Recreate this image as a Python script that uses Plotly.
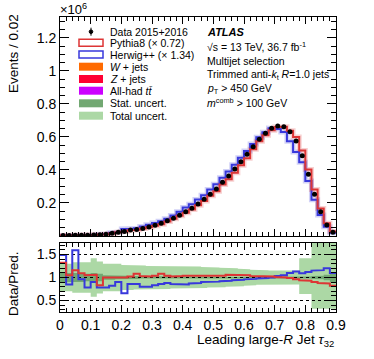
import plotly.graph_objects as go

# ---------------- data ----------------
bin_width = 0.02
n_bins = 45
edges = [round(bin_width * i, 2) for i in range(n_bins + 1)]

# events per bin, units of 1e6
data = [0.003, 0.003, 0.004, 0.004, 0.005, 0.006, 0.008, 0.010, 0.016, 0.022,
        0.028, 0.036, 0.040, 0.046, 0.054, 0.065, 0.077, 0.092, 0.107, 0.126,
        0.147, 0.168, 0.194, 0.222, 0.253, 0.285, 0.325, 0.364, 0.406, 0.450,
        0.495, 0.541, 0.586, 0.622, 0.653, 0.667, 0.662, 0.632, 0.576, 0.487,
        0.374, 0.253, 0.147, 0.067, 0.022]

pythia = [0.0023, 0.0029, 0.0034, 0.0037, 0.0048, 0.0057, 0.0096, 0.0100, 0.0158, 0.0220,
          0.0280, 0.0353, 0.0370, 0.0447, 0.0529, 0.0625, 0.0713, 0.0885, 0.1049, 0.1223,
          0.1413, 0.1600, 0.1865, 0.2114, 0.2433, 0.2714, 0.3125, 0.3434, 0.3830, 0.4286,
          0.4714, 0.5252, 0.5745, 0.6098, 0.6402, 0.6604, 0.6620, 0.6384, 0.6000, 0.5181,
          0.4022, 0.2811, 0.1670, 0.0770, 0.0268]

herwig = [0.0020, 0.0035, 0.0025, 0.0042, 0.0064, 0.0067, 0.0103, 0.0128, 0.0195, 0.0244,
          0.0424, 0.0419, 0.0465, 0.0575, 0.0675, 0.0783, 0.0895, 0.1045, 0.1244, 0.1465,
          0.1730, 0.1930, 0.2205, 0.2467, 0.2811, 0.3132, 0.3533, 0.3914, 0.4319, 0.4737,
          0.5156, 0.5577, 0.5980, 0.6283, 0.6530, 0.6476, 0.6305, 0.5745, 0.5097, 0.4468,
          0.3339, 0.2200, 0.1267, 0.0558, 0.0200]

ratio_pythia = [1.32, 1.05, 1.16, 1.09, 1.05, 1.06, 0.83, 1.00, 1.01, 1.00,
                1.00, 1.02, 1.08, 1.03, 1.02, 1.04, 1.08, 1.04, 1.02, 1.03,
                1.04, 1.05, 1.04, 1.05, 1.04, 1.05, 1.04, 1.06, 1.06, 1.05,
                1.05, 1.03, 1.02, 1.02, 1.02, 1.01, 1.00, 0.99, 0.96, 0.94,
                0.93, 0.90, 0.88, 0.87, 0.82]

ratio_herwig = [1.49, 0.85, 1.59, 0.96, 0.78, 0.90, 0.78, 0.78, 0.82, 0.90,
                0.66, 0.86, 0.86, 0.80, 0.80, 0.83, 0.86, 0.88, 0.86, 0.86,
                0.85, 0.87, 0.88, 0.90, 0.90, 0.91, 0.92, 0.93, 0.94, 0.95,
                0.96, 0.97, 0.98, 0.99, 1.00, 1.03, 1.05, 1.10, 1.13, 1.09,
                1.12, 1.15, 1.16, 1.20, 1.10]

stat_unc = [0.12, 0.10, 0.10, 0.10, 0.08, 0.10, 0.08, 0.05, 0.05, 0.04,
            0.04, 0.03, 0.03, 0.02, 0.02, 0.02, 0.02, 0.02, 0.02, 0.02,
            0.015, 0.015, 0.015, 0.015, 0.015, 0.015, 0.01, 0.01, 0.01, 0.01,
            0.01, 0.01, 0.01, 0.01, 0.01, 0.01, 0.01, 0.01, 0.015, 0.015,
            0.02, 0.03, 0.04, 0.06, 0.10]

total_unc_up = [0.30, 0.30, 0.33, 0.33, 0.33, 0.42, 0.35, 0.30, 0.30, 0.30,
                0.27, 0.27, 0.26, 0.26, 0.25, 0.25, 0.25, 0.25, 0.24, 0.24,
                0.24, 0.24, 0.24, 0.23, 0.22, 0.22, 0.21, 0.20, 0.20, 0.19,
                0.18, 0.17, 0.16, 0.16, 0.15, 0.15, 0.15, 0.15, 0.15, 0.42,
                0.42, 1.00, 1.00, 1.00, 1.00]

total_unc_down = [0.30, 0.30, 0.33, 0.33, 0.33, 0.42, 0.35, 0.30, 0.30, 0.30,
                  0.27, 0.27, 0.26, 0.26, 0.25, 0.25, 0.25, 0.25, 0.24, 0.24,
                  0.24, 0.24, 0.24, 0.23, 0.22, 0.22, 0.21, 0.20, 0.20, 0.19,
                  0.18, 0.17, 0.16, 0.16, 0.15, 0.15, 0.15, 0.15, 0.15, 0.36,
                  0.36, 0.68, 0.68, 0.68, 0.68]

main_ticks = [0.2, 0.4, 0.6, 0.8, 1.0, 1.2]
main_ticktext = ["0.2", "0.4", "0.6", "0.8", "1", "1.2"]
ratio_ticks = [0.5, 1.0, 1.5]
ratio_ticktext = ["0.5", "1", "1.5"]
x_ticks = [0, 0.1, 0.2, 0.3, 0.4, 0.5, 0.6, 0.7, 0.8, 0.9]
x_ticktext = ["0", "0.1", "0.2", "0.3", "0.4", "0.5", "0.6", "0.7", "0.8", "0.9"]

legend_labels = ["Data 2015+2016", "Pythia8 (× 0.72)", "Herwig++ (× 1.34)",
                 "<i>W</i> + jets", "<i>Z</i> + jets", "All-had <i>t</i><i>t̄</i>",
                 "Stat. uncert.", "Total uncert."]
info_lines = ["<b><i>ATLAS</i></b>", "√s = 13 TeV, 36.7 fb<sup>-1</sup>",
              "Multijet selection", "Trimmed anti-<i>k</i><sub>t</sub> <i>R</i>=1.0 jets",
              "<i>p</i><sub>T</sub> > 450 GeV", "<i>m</i><sup>comb</sup> > 100 GeV"]

# ---------------- styling ----------------
RED = "#dd3535"
BLUE = "#3838dc"
DARKG = "#72a872"
LIGHTG = "#acd8a5"
FONT = "Liberation Sans, Arial, sans-serif"

W, H = 374, 359
L, R, T, B = 60, 336, 17, 312   # plot-area edges in pixels
PW, PH = R - L, B - T


def px(x):
    return (x - L) / PW


def py(y):
    return (B - y) / PH


def step(vals):
    xs, ys = [], []
    for i, v in enumerate(vals):
        xs += [edges[i], edges[i + 1]]
        ys += [v, v]
    return xs, ys


def band(center, up, down):
    xs, ys_up, ys_dn = [], [], []
    for i in range(len(up)):
        xs += [edges[i], edges[i + 1]]
        ys_up += [center + up[i]] * 2
        ys_dn += [center - down[i]] * 2
    return xs + xs[::-1], ys_up + ys_dn[::-1]


centers = [round(edges[i] + bin_width / 2, 3) for i in range(n_bins)]

fig = go.Figure()

# main panel: MC halos then lines
for vals, col in [(herwig, BLUE), (pythia, RED)]:
    xs, ys = step(vals)
    fig.add_trace(go.Scatter(x=xs, y=ys, mode="lines", line=dict(color=col, width=5),
                             opacity=0.22, xaxis="x", yaxis="y", showlegend=False, hoverinfo="skip"))
for vals, col in [(herwig, BLUE), (pythia, RED)]:
    xs, ys = step(vals)
    fig.add_trace(go.Scatter(x=xs, y=ys, mode="lines", line=dict(color=col, width=2),
                             xaxis="x", yaxis="y", showlegend=False))
fig.add_trace(go.Scatter(x=centers, y=data, mode="markers",
                         marker=dict(color="black", size=5), xaxis="x", yaxis="y", showlegend=False))

# ratio panel
bx, by = band(1.0, total_unc_up, total_unc_down)
fig.add_trace(go.Scatter(x=bx, y=by, fill="toself", fillcolor=LIGHTG, mode="lines",
                         line=dict(width=0, color=LIGHTG), xaxis="x2", yaxis="y2", showlegend=False))
bx, by = band(1.0, stat_unc, stat_unc)
fig.add_trace(go.Scatter(x=bx, y=by, fill="toself", fillcolor=DARKG, mode="lines",
                         line=dict(width=0, color=DARKG), xaxis="x2", yaxis="y2", showlegend=False))
for lvl in ratio_ticks:
    fig.add_trace(go.Scatter(x=[0, 0.9], y=[lvl, lvl], mode="lines",
                             line=dict(color="black", width=1, dash="dot"),
                             xaxis="x2", yaxis="y2", showlegend=False))
for vals, col in [(ratio_herwig, BLUE), (ratio_pythia, RED)]:
    xs, ys = step(vals)
    fig.add_trace(go.Scatter(x=xs, y=ys, mode="lines", line=dict(color=col, width=2),
                             xaxis="x2", yaxis="y2", showlegend=False))

axis_common = dict(showline=True, linecolor="black", linewidth=1, mirror="ticks",
                   ticks="inside", tickcolor="black", showgrid=False, zeroline=False,
                   tickfont=dict(family=FONT, size=14, color="black"))

fig.update_layout(
    width=W, height=H,
    margin=dict(l=L, r=W - R, t=T, b=H - B, pad=0),
    paper_bgcolor="white", plot_bgcolor="white",
    font=dict(family=FONT, color="black"),
    hovermode=False,
    xaxis=dict(domain=[0, 1], range=[0, 0.9], anchor="y", showticklabels=False,
               tickvals=x_ticks, ticklen=7,
               minor=dict(dtick=0.02, tick0=0, ticklen=4, ticks="inside", tickcolor="black"),
               **axis_common),
    yaxis=dict(domain=[py(236), 1], range=[0, 1.327], anchor="x",
               tickvals=main_ticks, ticktext=main_ticktext, ticklen=9,
               minor=dict(dtick=0.05, tick0=0, ticklen=5, ticks="inside", tickcolor="black"),
               **axis_common),
    xaxis2=dict(domain=[0, 1], range=[0, 0.9], anchor="y2", matches="x",
                tickvals=x_ticks, ticktext=x_ticktext, ticklen=7,
                minor=dict(dtick=0.02, tick0=0, ticklen=4, ticks="inside", tickcolor="black"),
                **axis_common),
    yaxis2=dict(domain=[0, py(243)], range=[0.25, 1.75], anchor="x2",
                tickvals=ratio_ticks, ticktext=ratio_ticktext, ticklen=9,
                minor=dict(dtick=0.1, tick0=0, ticklen=5, ticks="inside", tickcolor="black"),
                **axis_common),
)

shapes = []
annots = []

# axis titles
annots.append(dict(x=px(13), y=py(54), xref="paper", yref="paper", text="Events / 0.02",
                   textangle=-90, showarrow=False, font=dict(size=13.5),
                   xanchor="center", yanchor="middle"))
annots.append(dict(x=px(13), y=py(284), xref="paper", yref="paper", text="Data/Pred.",
                   textangle=-90, showarrow=False, font=dict(size=13.5),
                   xanchor="center", yanchor="middle"))
annots.append(dict(x=px(336), y=py(340), xref="paper", yref="paper",
                   text="Leading large-<i>R</i> Jet <i>τ</i><sub>32</sub>",
                   showarrow=False, font=dict(size=13.5), xanchor="right", yanchor="middle"))
annots.append(dict(x=px(58), y=py(9), xref="paper", yref="paper", text="×10<sup>6</sup>",
                   showarrow=False, font=dict(size=13), xanchor="left", yanchor="middle"))

# legend
rows = [31.7, 42.7, 54.5, 66.7, 79, 90.7, 103.3, 115.7]
bx0, bx1 = 79, 103
for i, (lab, yc) in enumerate(zip(legend_labels, rows)):
    annots.append(dict(x=px(108), y=py(yc), xref="paper", yref="paper", text=lab,
                       showarrow=False, font=dict(size=10.5), xanchor="left", yanchor="middle"))
    if i == 0:
        shapes.append(dict(type="line", xref="paper", yref="paper", x0=px(91), x1=px(91),
                           y0=py(yc - 4), y1=py(yc + 4), line=dict(color="black", width=1)))
        shapes.append(dict(type="circle", xref="paper", yref="paper", x0=px(89.2), x1=px(92.8),
                           y0=py(yc - 1.8), y1=py(yc + 1.8), fillcolor="black",
                           line=dict(color="black", width=1)))
    elif i in (1, 2):
        col = RED if i == 1 else BLUE
        shapes.append(dict(type="rect", xref="paper", yref="paper", x0=px(bx0), x1=px(bx1),
                           y0=py(yc + 3.5), y1=py(yc - 3.5), fillcolor="white",
                           line=dict(color=col, width=1.5)))
    else:
        col = ["#ff6a00", "#ff0033", "#cc00ff", DARKG, LIGHTG][i - 3]
        shapes.append(dict(type="rect", xref="paper", yref="paper", x0=px(bx0), x1=px(bx1),
                           y0=py(yc + 4), y1=py(yc - 4), fillcolor=col, line=dict(width=0)))

# ATLAS info text
info_y = [32.3, 46.7, 61, 75.3, 89.3, 102.7]
for txt, yc in zip(info_lines, info_y):
    annots.append(dict(x=px(205), y=py(yc), xref="paper", yref="paper", text=txt,
                       showarrow=False, font=dict(size=10.5 if yc > 33 else 11),
                       xanchor="left", yanchor="middle"))

fig.update_layout(shapes=shapes, annotations=annots)
# remove the browser's default 8px page margin so the figure sits at the page corner
fig.write_html("out.html", config={"displayModeBar": False},
               post_script="document.body.style.margin='0px';")
